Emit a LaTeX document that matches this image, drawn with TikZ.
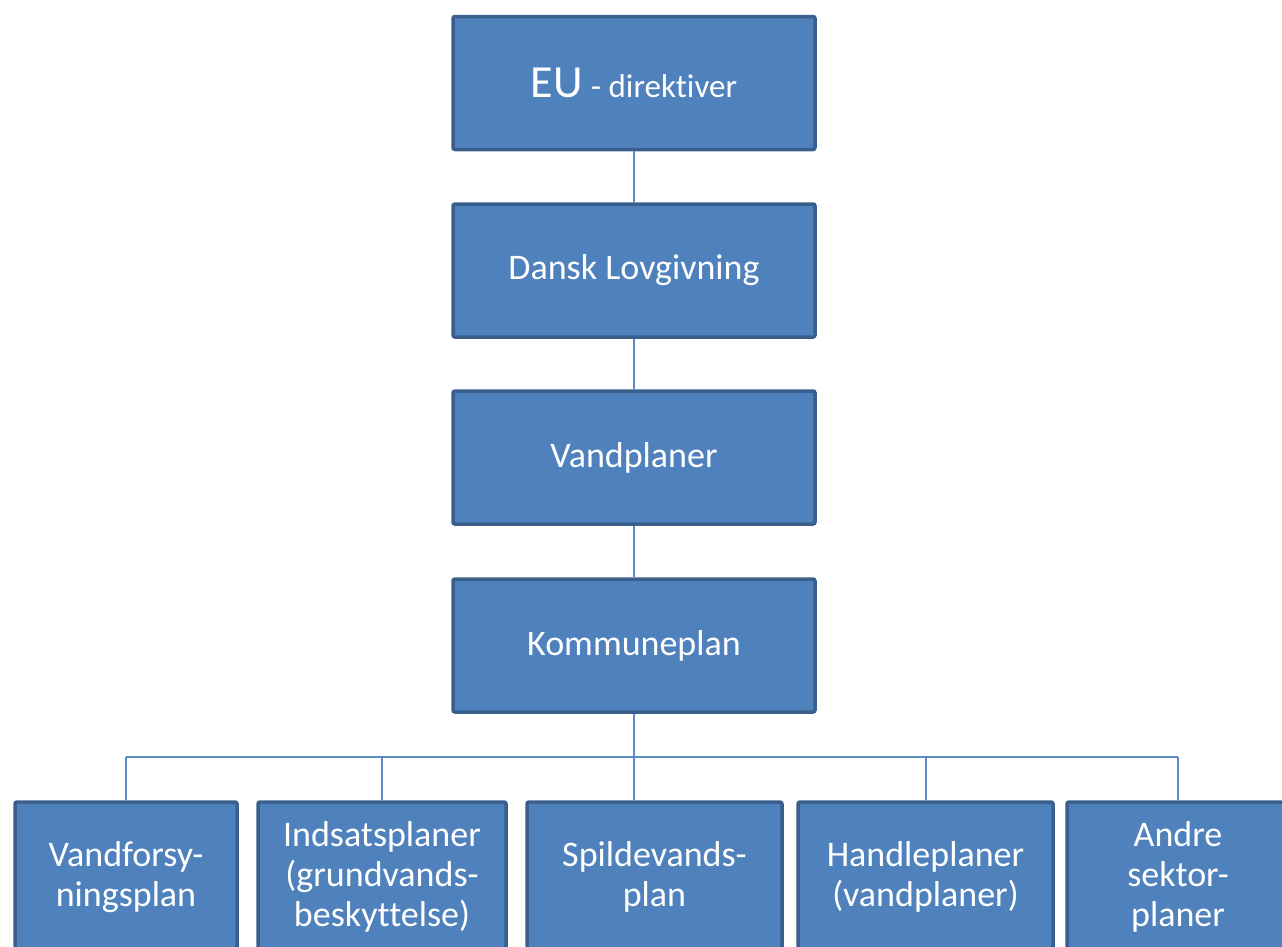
\documentclass[tikz,border=0pt]{standalone}
\usepackage{fontspec}
\setmainfont[Ligatures={NoCommon}]{Carlito}
\definecolor{boxfill}{HTML}{4F81BD}
\definecolor{boxedge}{HTML}{3A5F8C}
\definecolor{linkc}{HTML}{5F8BC4}
\begin{document}
\begin{tikzpicture}[x=1pt,y=-1pt,
  blk/.style={draw=boxedge,fill=boxfill,line width=3.5pt,rounded corners=2pt,
    text=white,align=center,inner sep=0pt,font=\fontsize{36}{40}\selectfont},
  topbox/.style={blk,minimum width=362pt,minimum height=133pt},
  link/.style={draw=linkc,line width=2pt}]
\useasboundingbox (0,0) rectangle (1282,946);
\clip (0,0) rectangle (1282,946);
% top chain
\node[topbox] (eu) at (634,83) {{\fontsize{46}{50}\selectfont EU} {\fontsize{33}{38}\selectfont - direktiver}};
\node[topbox] (dl) at (634,270.5) {Dansk Lovgivning};
\node[topbox] (vp) at (634,457.5) {Vandplaner};
\node[topbox] (kp) at (634,645.5) {Kommuneplan};
% bottom row
\node[blk,minimum width=222pt,minimum height=150pt] (vf) at (126,877) {Vandforsy-\\ningsplan};
\node[blk,minimum width=248pt,minimum height=150pt] (ip) at (382,877) {Indsatsplaner\\(grundvands-\\beskyttelse)};
\node[blk,minimum width=255pt,minimum height=150pt] (sp) at (654.5,877) {Spildevands-\\plan};
\node[blk,minimum width=255pt,minimum height=150pt] (hp) at (925.5,877) {Handleplaner\\(vandplaner)};
\node[blk,minimum width=222pt,minimum height=150pt] (ap) at (1178,877) {Andre\\sektor-\\planer};
\coordinate (bus) at (634,757);
% connectors
\draw[link] (eu.south) -- (dl.north);
\draw[link] (dl.south) -- (vp.north);
\draw[link] (vp.south) -- (kp.north);
\draw[link] (kp.south) -- (kp.south |- sp.north);
\draw[link] (vf.north |- bus) -- (ap.north |- bus);
\draw[link] (vf.north) -- (vf.north |- bus);
\draw[link] (ip.north) -- (ip.north |- bus);
\draw[link] (hp.north) -- (hp.north |- bus);
\draw[link] (ap.north) -- (ap.north |- bus);
\end{tikzpicture}
\end{document}
